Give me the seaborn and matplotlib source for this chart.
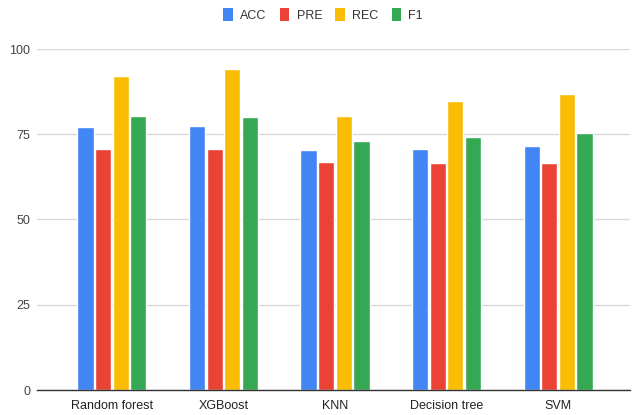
import matplotlib
matplotlib.use("Agg")
import matplotlib.pyplot as plt
from matplotlib.patches import Patch
import seaborn as sns
import pandas as pd

models = ["Random forest", "XGBoost", "KNN", "Decision tree", "SVM"]
metrics = ["ACC", "PRE", "REC", "F1"]
acc = [77.2, 77.5, 70.4, 70.8, 71.6]
pre = [70.8, 70.8, 66.9, 66.5, 66.6]
rec = [92.2, 94.1, 80.4, 84.7, 86.8]
f1 = [80.4, 80.0, 72.9, 74.3, 75.5]
y_ticks = [0, 25, 50, 75, 100]

colors = ["#4285F4", "#EA4335", "#FBBC04", "#34A853"]

df = pd.DataFrame({
    "model": models * 4,
    "metric": sum([[m] * len(models) for m in metrics], []),
    "value": acc + pre + rec + f1,
})

sns.set_theme(style="white")
plt.rcParams["font.family"] = ["Liberation Sans", "DejaVu Sans"]

fig = plt.figure(figsize=(6.4, 4.15), dpi=100)
ax = fig.add_axes([37 / 640, 25 / 415, 593 / 640, 341 / 415])

sns.barplot(data=df, x="model", y="value", hue="metric", hue_order=metrics,
            order=models, palette=colors, width=0.63, gap=0.07,
            saturation=1, ax=ax, legend=False)

ax.set_xlim(-0.672, 4.645)
ax.set_ylim(0, 100)
ax.set_yticks(y_ticks)
ax.set_yticklabels([str(t) for t in y_ticks])
ax.set_xlabel("")
ax.set_ylabel("")
ax.yaxis.grid(True, color="#d9d9d9", linewidth=1)
ax.set_axisbelow(True)
for s in ["left", "right", "top"]:
    ax.spines[s].set_visible(False)
ax.spines["bottom"].set_color("#333333")
ax.spines["bottom"].set_linewidth(1)
ax.tick_params(axis="y", length=0, pad=5, labelsize=9, labelcolor="#444444")
ax.tick_params(axis="x", length=0, pad=7, labelsize=9, labelcolor="#222222")

handles = [Patch(facecolor=c, edgecolor="none", label=m) for c, m in zip(colors, metrics)]
fig.legend(handles=handles, loc="center", bbox_to_anchor=(0.505, 1 - 15 / 415),
           ncol=4, frameon=False, fontsize=9, handlelength=0.75, handleheight=1.25,
           handletextpad=0.6, columnspacing=1.05, labelcolor="#333333")

fig.savefig("out.png", dpi=100)
